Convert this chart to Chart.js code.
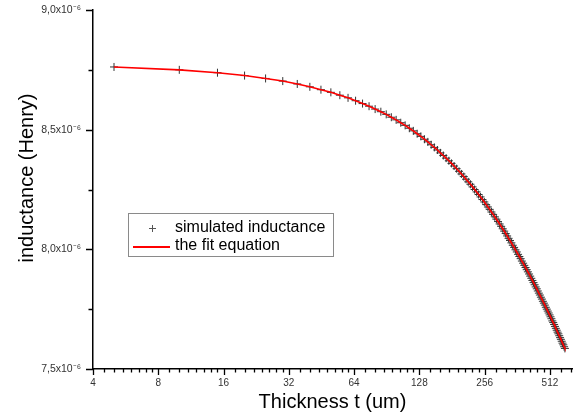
<!DOCTYPE html>
<html><head><meta charset="utf-8">
<script src="https://cdn.jsdelivr.net/npm/chart.js@4.4.1/dist/chart.umd.min.js"></script>
<style>html,body{margin:0;padding:0;background:#fff;}canvas{display:block;}</style>
</head><body>
<canvas id="c" width="573" height="419"></canvas>
<script>
// Thickness t (um)
const thickness = [5,10,15,20,25,30,35,40,45,50,55,60,65,70,75,80,85,90,95,100,
105,110,115,120,125,130,135,140,145,150,155,160,165,170,175,180,185,190,195,200,
205,210,215,220,225,230,235,240,245,250,255,260,265,270,275,280,285,290,295,300,
305,310,315,320,325,330,335,340,345,350,355,360,365,370,375,380,385,390,395,400,
405,410,415,420,425,430,435,440,445,450,455,460,465,470,475,480,485,490,495,500,
505,510,515,520,525,530,535,540,545,550,555,560,565,570,575,580,585,590,595,600];
// inductance, in units of 10^-6 Henry
const simulatedInductance = [8.762,8.750,8.738,8.726,8.714,8.703,8.691,8.679,8.667,8.656,
8.644,8.633,8.621,8.609,8.598,8.586,8.575,8.564,8.552,8.541,
8.529,8.518,8.506,8.495,8.483,8.472,8.460,8.449,8.437,8.426,
8.415,8.403,8.392,8.381,8.370,8.359,8.348,8.337,8.326,8.315,
8.304,8.293,8.282,8.272,8.261,8.250,8.240,8.229,8.219,8.208,
8.198,8.187,8.177,8.167,8.156,8.146,8.136,8.126,8.116,8.106,
8.096,8.086,8.076,8.066,8.056,8.046,8.037,8.027,8.017,8.008,
7.998,7.989,7.979,7.970,7.961,7.951,7.942,7.933,7.924,7.915,
7.906,7.897,7.888,7.879,7.870,7.861,7.852,7.843,7.835,7.826,
7.817,7.809,7.800,7.792,7.783,7.775,7.767,7.758,7.750,7.742,
7.734,7.726,7.718,7.710,7.701,7.694,7.686,7.678,7.670,7.662,
7.654,7.647,7.639,7.631,7.624,7.616,7.608,7.601,7.593,7.586];
const fitInductance = simulatedInductance.slice();
const xTickLabels = [4,8,16,32,64,128,256,512];
const yTickValues = [7.5,8.0,8.5,9.0];
const yTickLabels = ['7,5x10\u207B\u2076','8,0x10\u207B\u2076','8,5x10\u207B\u2076','9,0x10\u207B\u2076'];
const legendLabels = ['simulated inductance','the fit equation'];
const xTitle = 'Thickness t (um)';
const yTitle = 'inductance (Henry)';

const X_MIN = 4, X_MAX = 647, Y_MIN = 7.5, Y_MAX = 9.0;
const FONT = '"Liberation Sans", Arial, sans-serif';

const xTicksAll = [];
xTickLabels.forEach(m => { for (let k = 0; k < 8; k++) { const v = m * (1 + k / 8); if (v <= X_MAX) xTicksAll.push(v); } });
const yTicksAll = [];
for (let i = 0; i < yTickValues.length; i++) { yTicksAll.push(yTickValues[i]); if (i < yTickValues.length - 1) yTicksAll.push((yTickValues[i] + yTickValues[i + 1]) / 2); }

const decor = {
  id: 'decor',
  afterDraw(chart) {
    const ctx = chart.ctx, xs = chart.scales.x, ys = chart.scales.y;
    ctx.save();
    ctx.strokeStyle = '#000'; ctx.lineWidth = 1.3;
    ctx.beginPath();
    xs.ticks.forEach(t => {
      const px = Math.round(xs.getPixelForValue(t.value)) + 0.5;
      const major = xTickLabels.includes(t.value);
      ctx.moveTo(px, xs.top); ctx.lineTo(px, xs.top + (major ? 6 : 3.5));
    });
    ys.ticks.forEach(t => {
      const py = Math.round(ys.getPixelForValue(t.value)) + 0.5;
      const major = yTickValues.some(v => Math.abs(v - t.value) < 1e-9);
      ctx.moveTo(ys.right, py); ctx.lineTo(ys.right - (major ? 7 : 4.5), py);
    });
    ctx.stroke();
    // y title
    ctx.save();
    ctx.translate(33, 178); ctx.rotate(-Math.PI / 2);
    ctx.fillStyle = '#000'; ctx.font = '20px ' + FONT; ctx.textAlign = 'center'; ctx.textBaseline = 'alphabetic';
    ctx.fillText(yTitle, 0, 0);
    ctx.restore();
    // legend
    ctx.strokeStyle = '#8a8a8a'; ctx.lineWidth = 1;
    ctx.strokeRect(128.5, 213.5, 205, 43);
    ctx.strokeStyle = '#555'; ctx.lineWidth = 1;
    ctx.beginPath();
    ctx.moveTo(149, 228.5); ctx.lineTo(156, 228.5);
    ctx.moveTo(152.5, 225); ctx.lineTo(152.5, 232);
    ctx.stroke();
    ctx.strokeStyle = '#ff0000'; ctx.lineWidth = 2;
    ctx.beginPath(); ctx.moveTo(133, 247); ctx.lineTo(170, 247); ctx.stroke();
    ctx.fillStyle = '#000'; ctx.font = '16px ' + FONT; ctx.textAlign = 'left'; ctx.textBaseline = 'middle';
    ctx.fillText(legendLabels[0], 175, 228);
    ctx.fillText(legendLabels[1], 175, 246);
    ctx.restore();
  }
};

new Chart(document.getElementById('c'), {
  type: 'scatter',
  data: {
    datasets: [
      { label: legendLabels[1], data: thickness.map((t, i) => ({ x: t, y: fitInductance[i] })),
        showLine: true, borderColor: '#ff0000', borderWidth: 1.6, pointRadius: 0, fill: false, tension: 0 },
      { label: legendLabels[0], data: thickness.map((t, i) => ({ x: t, y: simulatedInductance[i] })),
        showLine: false, pointStyle: 'cross', pointRadius: 4, pointBorderColor: '#333', pointBorderWidth: 1 }
    ]
  },
  options: {
    responsive: false, animation: false, devicePixelRatio: 1,
    layout: { autoPadding: false, padding: { top: 10, right: 1, left: 0, bottom: 0 } },
    plugins: { legend: { display: false }, tooltip: { enabled: false } },
    scales: {
      x: {
        type: 'logarithmic', min: X_MIN, max: X_MAX,
        afterBuildTicks: s => { s.ticks = xTicksAll.map(v => ({ value: v })); },
        afterFit: s => { s.height = 50; s.paddingLeft = 0; s.paddingRight = 0; },
        grid: { display: false, drawTicks: false },
        border: { display: true, color: '#000', width: 1.5 },
        ticks: { autoSkip: false, maxRotation: 0, color: '#333', padding: 8, font: { size: 10, family: FONT },
          callback: v => xTickLabels.includes(v) ? String(v) : '' },
        title: { display: true, text: xTitle, color: '#000', font: { size: 20, family: FONT }, padding: { top: 0, bottom: 5 } }
      },
      y: {
        type: 'linear', min: Y_MIN, max: Y_MAX,
        afterBuildTicks: s => { s.ticks = yTicksAll.map(v => ({ value: v })); },
        afterFit: s => { s.width = 93; s.paddingTop = 0; s.paddingBottom = 0; },
        grid: { display: false, drawTicks: false },
        border: { display: true, color: '#000', width: 1.5 },
        ticks: { autoSkip: false, color: '#333', padding: 12, font: { size: 10.5, family: FONT },
          callback: v => { const i = yTickValues.findIndex(y => Math.abs(y - v) < 1e-9); return i >= 0 ? yTickLabels[i] : ''; } }
      }
    }
  },
  plugins: [decor]
});
</script>
</body></html>
